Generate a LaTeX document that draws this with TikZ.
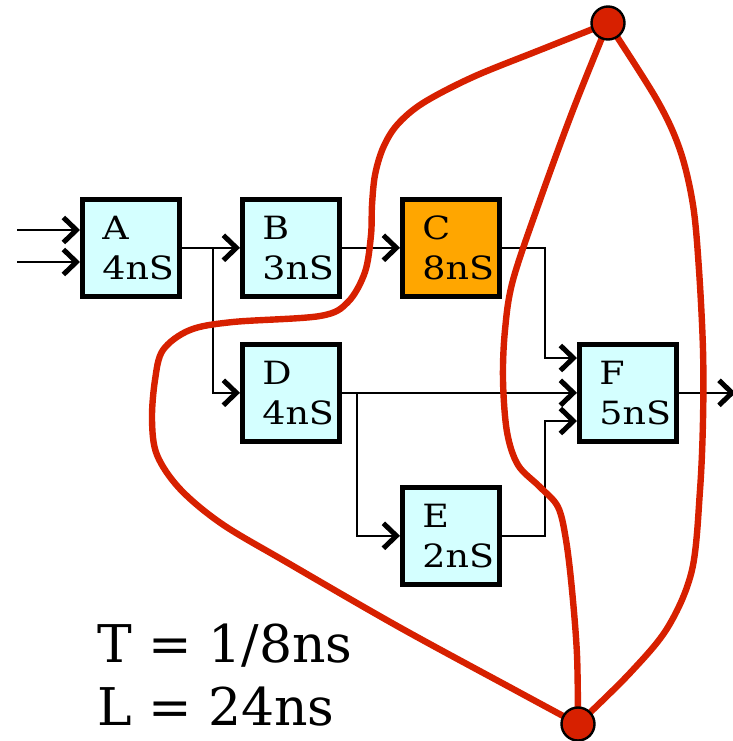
\documentclass[tikz,border=0pt]{standalone}
\usepackage{fontspec}
\setmainfont{DejaVu Serif}
\newfontfamily\stagefont{DejaVu Serif}[FakeStretch=1.14]
\usetikzlibrary{arrows.meta,calc}
\definecolor{boxcyan}{RGB}{212,255,255}
\definecolor{boxorange}{RGB}{255,166,0}
\definecolor{cutred}{RGB}{215,32,0}
\begin{document}
\begin{tikzpicture}[x=1pt,y=-1pt,
  stage/.style={draw=black,line width=4.6pt,fill=boxcyan,minimum width=97pt,minimum height=97pt,
    inner xsep=20pt,inner ysep=0pt,text width=57pt,align=left,
    font=\stagefont\fontsize{32}{40}\selectfont,anchor=north west},
  wire/.style={line width=2.1pt},
  arr/.style={wire,-{Straight Barb[length=13pt,width=25pt,line width=5pt 0]}},
  cut/.style={draw=cutred,line width=6.4pt,line cap=round},
  dot/.style={circle,fill=cutred,draw=black,line width=2.4pt,minimum size=33pt,inner sep=0pt},
  bigtext/.style={font=\fontsize{52}{60}\selectfont,anchor=base west,inner sep=0pt}]
\useasboundingbox (0,0) rectangle (732,741);

% stages
\node[stage] (A) at (80,197) {A\\4nS};
\node[stage] (B) at (240,197) {B\\3nS};
\node[stage,fill=boxorange] (C) at (400,197) {C\\8nS};
\node[stage] (D) at (240,342) {D\\4nS};
\node[stage] (E) at (400,485) {E\\2nS};
\node[stage] (F) at (577,342) {F\\5nS};

% free ends and junctions
\coordinate (in1) at (17,230);
\coordinate (in2) at (17,262);
\coordinate (out) at ($(F.east)+(57,0)$);
\coordinate (ja) at ($(A.east)+(31,0)$);
\coordinate (jc) at (545,358);
\coordinate (jd) at ($(D.east)+(15,0)$);
\coordinate (je) at (545,421);

% connectors
\draw[arr] (in1) -- (in1 -| A.west);
\draw[arr] (in2) -- (in2 -| A.west);
\draw[arr] (A.east) -- (B.west);
\draw[arr] (ja) |- (D.west);
\draw[arr] (B.east) -- (C.west);
\draw[arr] (C.east) -| (jc) -- (jc -| F.west);
\draw[arr] (D.east) -- (F.west);
\draw[arr] (jd) |- (E.west);
\draw[arr] (E.east) -| (je) -- (je -| F.west);
\draw[arr] (F.east) -- (out);

% cut lines
\coordinate (top) at (608,23);
\coordinate (bot) at (578,724);
\draw[cut] plot[smooth,tension=0.55] coordinates {(top) (540,50) (473,77) (423,103) (397,125) (383,148) (375,175) (372,205) (371,235) (365,272) (348,302) (320,316) (233,322) (190,330) (163,350) (155,380) (152,420) (157,455) (180,489) (222,524) (288,563) (399,627) (515,690) (bot)};
\draw[cut] plot[smooth,tension=0.55] coordinates {(top) (573,110) (540,200) (513,280) (505,330) (503,380) (507,432) (518,465) (540,487) (558,507) (566,540) (572,590) (577,655) (bot)};
\draw[cut] plot[smooth,tension=0.55] coordinates {(top) (657,100) (680,150) (693,205) (699,270) (703,350) (703,420) (700,490) (692,570) (668,627) (630,673) (bot)};
\node[dot] (topdot) at (top) {};
\node[dot] (botdot) at (bot) {};

% summary
\node[bigtext] (T) at (97,662) {T = 1/8ns};
\node[bigtext] (L) at (97,725) {L = 24ns};
\end{tikzpicture}
\end{document}
